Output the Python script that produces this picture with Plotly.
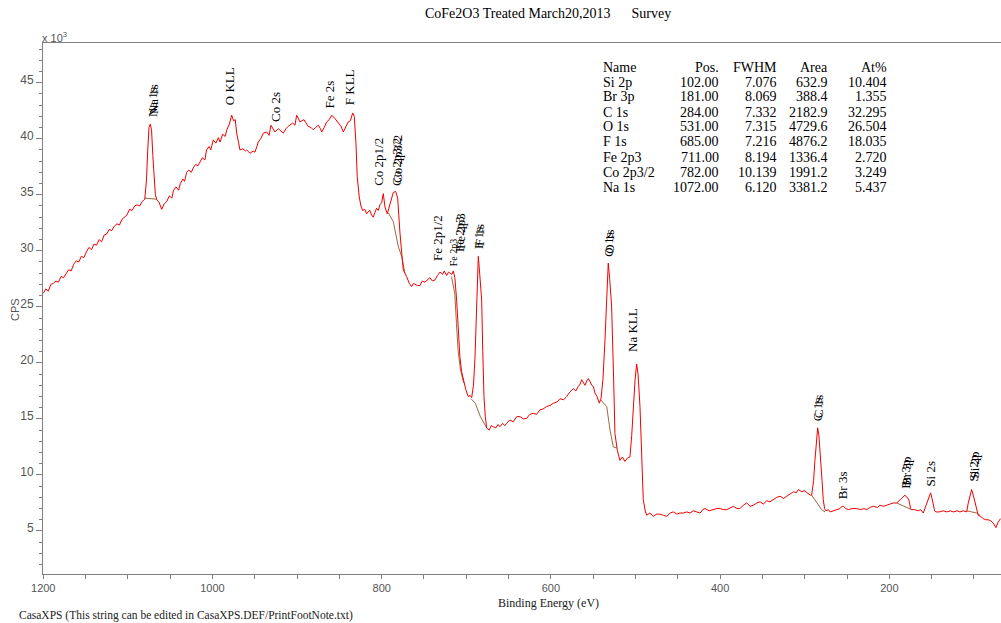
import plotly.graph_objects as go

# ---------------- data (binding energy eV, counts per second in 10^3) ----------------
seg_high_be = [
    (1200, 26.2), (1197, 26.6), (1194, 26.4), (1191, 27.0), (1188, 27.1), (1185, 27.3),
    (1182, 27.2), (1179, 27.7), (1176, 27.6), (1173, 27.9), (1170, 28.3), (1167, 28.2),
    (1164, 28.8), (1161, 29.1), (1158, 29.0), (1155, 29.5), (1152, 29.4), (1149, 29.9),
    (1146, 30.3), (1143, 30.1), (1140, 30.6), (1137, 30.5), (1134, 31.0), (1131, 30.8),
    (1128, 31.4), (1125, 31.5), (1122, 31.9), (1119, 31.8), (1116, 32.2), (1113, 32.4),
    (1110, 32.3), (1107, 32.8), (1104, 33.0), (1101, 33.2), (1098, 33.7), (1095, 33.6),
    (1092, 34.0), (1089, 34.1), (1086, 34.0), (1083, 34.4), (1080, 34.6),
]
seg_na1s = [
    (1078, 36.3), (1076.5, 39.0), (1075, 41.0), (1073.5, 41.3), (1072, 40.8),
    (1070.5, 38.5), (1069, 36.5), (1067.5, 35.0), (1066, 34.6), (1063, 34.3), (1060, 33.7),
]
seg_okll = [
    (1057, 34.2), (1054, 34.4), (1051, 34.9), (1048, 34.7), (1046, 35.4), (1043, 35.7),
    (1040, 35.4), (1038, 36.0), (1035, 36.4), (1033, 36.2), (1030.5, 37.0), (1028, 37.2),
    (1025, 37.0), (1022.7, 37.4), (1020, 37.7), (1017, 37.6), (1014.8, 37.9), (1012, 38.3),
    (1009, 38.1), (1007, 39.0), (1004, 39.3), (1002, 39.0), (999, 39.9), (996, 39.6),
    (993, 40.1), (991, 39.7), (988, 40.4), (985, 40.2), (983, 40.8), (980, 41.3),
    (977.3, 42.1), (975, 41.6), (973, 41.7), (971.4, 40.5), (969, 39.6), (967.5, 39.0),
    (964, 39.1), (961, 38.9), (959.6, 39.0), (957, 38.8), (955.7, 38.7), (952, 38.9),
    (949.8, 38.8), (947.5, 39.3), (945.9, 39.7), (943, 40.0),
]
seg_fkll = [
    (939.9, 40.5), (935.9, 40.6), (933, 40.3), (930.9, 41.2), (928.5, 40.9), (926.1, 40.6),
    (922.2, 40.9), (919, 40.7), (916.3, 40.5), (913, 40.9), (910.4, 41.1), (905.2, 41.4),
    (902.5, 41.2), (900.5, 42.1), (898.5, 41.8), (896.6, 41.5), (891.9, 41.7), (889, 41.4),
    (886.8, 41.1), (883.5, 41.0), (880.9, 40.8), (878, 41.0), (874.9, 41.2), (872.5, 40.9),
    (870.9, 40.6), (868, 41.0), (865, 41.5), (862, 41.7), (859.1, 42.1), (855.2, 41.8),
    (851.3, 41.4), (848, 41.1), (845.4, 40.6), (842.5, 41.0), (839.5, 41.5), (837, 41.6),
    (834.3, 42.3), (832.4, 42.0), (830.4, 39.6), (828.9, 36.6), (826.5, 34.8),
]
seg_co2p = [
    (824.5, 34.0), (822.5, 33.6), (820, 33.7), (817.7, 33.3), (815.8, 33.5), (813.9, 33.6),
    (812, 33.2), (810.0, 33.0), (808, 33.4), (806.0, 33.8), (804, 33.6), (802.1, 34.1),
    (800, 34.3), (798.1, 35.1), (796.1, 33.9), (793.4, 33.3), (791.5, 33.8), (789.4, 34.4),
    (786.3, 35.2), (783.5, 35.3), (781.1, 34.7), (778.4, 31.6), (776.5, 29.8), (774.5, 28.3),
]
seg_fe2p = [
    (770.5, 27.7), (767.5, 27.1), (764.6, 26.8), (762.5, 27.1), (760.7, 27.0), (757.5, 26.9),
    (754.8, 26.9), (752, 27.3), (748.9, 27.2), (746, 27.4), (743.0, 27.6), (740, 27.3),
    (737.0, 27.4), (734, 27.8), (731.1, 28.1), (728, 27.9), (726, 28.2), (723.2, 27.8),
    (721, 28.1), (719.3, 28.0), (717, 27.9), (715.4, 28.2), (713.5, 27.6), (711.4, 25.6),
    (709.5, 23.0), (707.5, 20.5), (705.5, 19.2), (703.6, 18.5), (700.5, 17.6), (697.7, 17.0),
    (695.5, 17.1), (693.6, 16.9),
]
seg_f1s = [
    (691.5, 18.0), (689.7, 20.5), (687.8, 25.0), (686.5, 28.8), (685.8, 29.5), (684.8, 28.6),
    (683.5, 27.2), (681.8, 25.6), (680.5, 21.0), (679.1, 17.0), (677.5, 15.2), (675.9, 14.2),
    (673, 14.0), (670.5, 14.4), (668.1, 14.3), (665, 14.2), (662.5, 14.5), (660.2, 14.3),
    (657, 14.6), (654.5, 14.4), (652.3, 14.6), (648.5, 14.9), (644.4, 14.75), (640.4, 15.2),
    (636.5, 15.2), (632.5, 15.0), (628.6, 15.05), (625, 15.4), (620.8, 15.5), (617, 15.4),
    (612.9, 15.8), (609, 15.9), (605.0, 16.1), (601, 16.2), (597.1, 16.4), (593, 16.5),
    (589.2, 16.8), (585, 16.7), (581.3, 17.0), (577.5, 17.4), (573.5, 17.7), (570.5, 17.5),
    (567.6, 17.9), (565.5, 18.1), (563.6, 18.5), (561.5, 18.2), (559.7, 18.0), (557.5, 18.4),
    (555.8, 18.6), (553.5, 18.3), (551.8, 18.0), (549.8, 17.9), (547.9, 17.3), (545.5, 17.0),
    (542.8, 16.4), (540.8, 16.8),
]
seg_o1s_nakll = [
    (538.5, 18.5), (536.1, 22.0), (534, 26.0), (532.2, 28.9), (530.5, 27.5), (528.2, 25.0),
    (526, 19.0), (524.3, 13.7), (521.5, 12.2), (518.4, 11.3), (515.5, 11.6), (512.5, 11.2),
    (509.5, 11.5), (506.6, 11.6), (504.5, 13.5), (502.6, 16.1), (500.5, 18.5), (498.6, 19.9),
    (497, 19.0), (494.7, 16.1), (492.5, 11.5), (490.8, 7.8), (488.5, 6.8), (486.8, 6.4),
]
seg_valence_c1s = [
    (483, 6.6), (479.0, 6.3), (475, 6.5), (471.1, 6.5), (467, 6.4), (463.2, 6.3),
    (459, 6.6), (455.3, 6.7), (451, 6.5), (447.4, 6.6), (443.5, 6.6), (439.5, 6.7),
    (435.5, 6.6), (431.6, 6.8), (427.5, 6.7), (423.7, 6.6), (420.5, 6.9), (417.8, 7.0),
    (413, 6.8), (408.0, 6.9), (404, 7.0), (400.1, 7.0), (396, 6.9), (392.2, 6.9),
    (388, 7.1), (384.3, 7.2), (380, 7.0), (376.4, 7.0), (372.5, 7.3), (368.5, 7.5),
    (364.5, 7.2), (360.6, 7.3), (356.5, 7.5), (352.7, 7.6), (349, 7.4), (344.8, 7.7),
    (341, 7.6), (337.0, 7.8), (333, 8.0), (329.1, 8.1), (325, 7.9), (321.2, 8.1),
    (317.5, 8.3), (313.3, 8.5), (310, 8.4), (307.4, 8.7), (305.5, 8.6), (303.4, 8.5),
    (300.5, 8.6), (297.5, 8.4), (295.5, 8.3), (293.6, 8.2), (291.8, 8.2), (289.5, 9.5),
    (287.9, 11.3), (286.5, 13.0), (284.7, 14.2), (283.2, 13.5), (281.2, 11.6), (279.5, 9.5),
    (278.1, 7.8), (276.5, 7.0), (274.9, 6.8),
]
seg_low_be = [
    (272, 6.9), (270, 6.7), (266.2, 6.8), (262, 6.9), (258.3, 7.0), (256, 7.2),
    (254.4, 7.2), (251.5, 7.0), (248.5, 6.9), (244, 7.0), (238.6, 7.0), (234, 6.9),
    (230, 7.0), (226.8, 6.9), (223, 7.1), (218.9, 7.2), (214, 7.1), (211.1, 7.3),
    (207.1, 7.2), (203, 7.3), (199.5, 7.4), (195.3, 7.5), (191.3, 7.5), (189.4, 7.6),
    (187, 7.8), (185.4, 7.9), (183.2, 8.1), (181.5, 8.2), (179.5, 8.0), (177.6, 7.9),
    (176.4, 7.6), (174.8, 7.0), (173.6, 6.9), (170, 6.9), (165.8, 6.8), (163, 6.9),
    (159.9, 6.6), (157.8, 7.0), (155.9, 7.5), (153.5, 8.0), (151.2, 8.4), (149.5, 7.9),
    (148.0, 7.3), (146.5, 6.8), (144.9, 6.7), (141, 6.7), (136.2, 6.8), (132.2, 6.7),
    (128, 6.8), (124.4, 6.7), (120, 6.8), (116.5, 6.7), (112.6, 6.8), (108.6, 6.7),
    (106.7, 7.5), (104.5, 8.2), (102.7, 8.7), (100.8, 8.2), (98.8, 7.5), (96.8, 6.9),
    (94.9, 6.4), (92, 6.3), (89.0, 6.1), (86, 6.0), (83.1, 6.0), (80, 5.9),
    (77.2, 5.7), (74.0, 5.3), (71.3, 5.8), (68.5, 6.1),
]

# Shirley-type backgrounds under the fitted regions
bg_na1s = [(1079.8, 34.7), (1066.0, 34.6)]
bg_co2p = [(792.2, 33.4), (786.3, 32.6), (780.4, 30.4), (776.4, 29.5), (772.5, 28.0)]
bg_fe2p = [(717.5, 27.7), (713.6, 26.2), (711.6, 23.5), (709.7, 21.1), (706.9, 19.4), (703.0, 18.2)]
bg_f1s = [(694.4, 16.8), (689.3, 16.4), (683.4, 15.2), (677.5, 14.3), (675.9, 14.2)]
bg_o1s = [(541.3, 16.7), (534.0, 16.1), (530.1, 14.0), (526.2, 12.5), (522.2, 12.4)]
bg_c1s = [(291.8, 8.2), (285.9, 7.6), (280.0, 6.9), (276.1, 6.7)]
bg_br3p = [(191.3, 7.5), (181.5, 7.2), (173.6, 6.9)]
bg_si2p = [(108.6, 6.8), (96.8, 6.6), (92.9, 6.4)]

# Peak labels: text, energy (eV), label base (CPS x 10^3), font size, doubled
peak_text = ["Na 1s", "O KLL", "Co 2s", "Fe 2s", "F KLL", "Co 2p1/2", "Co 2p3/2",
             "Fe 2p1/2", "Fe 2p3", "Fe 2p3", "F 1s", "O 1s", "Na KLL", "C 1s",
             "Br 3s", "Br 3p", "Si 2s", "Si 2p"]
peak_ev = [1071.5, 980.5, 926.1, 861.1, 838.6, 803.2, 781.9,
           733.4, 708.6, 715.4, 686.2, 532.3, 502.7, 284.9,
           255.4, 181.0, 151.5, 100.7]
peak_base = [41.84, 42.9, 41.4, 42.6, 42.9, 35.7, 35.7,
             29.0, 29.8, 28.55, 30.07, 29.4, 20.9, 14.7,
             7.77, 8.66, 8.9, 9.3]
peak_size = [13, 13, 13, 13, 13, 13, 13, 13, 13, 10, 13, 13, 13, 13, 13, 13, 13, 13]
peak_double = [True, False, False, False, False, False, True,
               False, True, False, True, True, False, True,
               False, True, False, True]

# Quantification table
tbl_name = ["Si 2p", "Br 3p", "C 1s", "O 1s", "F 1s", "Fe 2p3", "Co 2p3/2", "Na 1s"]
tbl_pos = ["102.00", "181.00", "284.00", "531.00", "685.00", "711.00", "782.00", "1072.00"]
tbl_fwhm = ["7.076", "8.069", "7.332", "7.315", "7.216", "8.194", "10.139", "6.120"]
tbl_area = ["632.9", "388.4", "2182.9", "4729.6", "4876.2", "1336.4", "1991.2", "3381.2"]
tbl_at = ["10.404", "1.355", "32.295", "26.504", "18.035", "2.720", "3.249", "5.437"]

x_ticks = [1200, 1000, 800, 600, 400, 200]
y_ticks = [5, 10, 15, 20, 25, 30, 35, 40, 45]

# ---------------- figure ----------------
W, H = 1001, 623
ML, MR, MT, MB = 43, 0, 43, 49
PW, PH = W - ML - MR, H - MT - MB


def px(xp):
    return (xp - ML) / PW


def py(yp):
    return (H - MB - yp) / PH


spectrum = (seg_high_be + seg_na1s + seg_okll + seg_fkll + seg_co2p + seg_fe2p +
            seg_f1s + seg_o1s_nakll + seg_valence_c1s + seg_low_be)

bg_x, bg_y = [], []
for seg in [bg_na1s, bg_co2p, bg_fe2p, bg_f1s, bg_o1s, bg_c1s, bg_br3p, bg_si2p]:
    bg_x += [p[0] for p in seg] + [None]
    bg_y += [p[1] for p in seg] + [None]

fig = go.Figure()
fig.add_trace(go.Scatter(x=bg_x, y=bg_y, mode="lines",
                         line=dict(color="#9a6a3c", width=1), hoverinfo="skip"))
fig.add_trace(go.Scatter(x=[p[0] for p in spectrum], y=[p[1] for p in spectrum],
                         mode="lines", line=dict(color="#f00000", width=1)))

serif = "Liberation Serif, Times New Roman, serif"
sans = "Liberation Sans, Arial, sans-serif"
ann = []
for t, e, b, s, d in zip(peak_text, peak_ev, peak_base, peak_size, peak_double):
    ann.append(dict(x=e, y=b, xref="x", yref="y", text=t, textangle=-90,
                    showarrow=False, xanchor="center", yanchor="bottom",
                    font=dict(family=serif, size=s, color="black"), borderpad=0))
    if d:
        ann.append(dict(x=e, y=b, xref="x", yref="y", text=t, textangle=-90,
                        showarrow=False, xanchor="center", yanchor="bottom", xshift=1, yshift=3,
                        font=dict(family=serif, size=s, color="black"), borderpad=0))

# table
row_y = [67 + 15 * i for i in range(9)]
cols = [("Name", tbl_name, 602, "left"), ("Pos.", tbl_pos, 720, "right"),
        ("FWHM", tbl_fwhm, 778, "right"), ("Area", tbl_area, 829, "right"),
        ("At%", tbl_at, 888, "right")]
for head, vals, xr, anc in cols:
    for i, txt in enumerate([head] + vals):
        ann.append(dict(x=px(xr), y=py(row_y[i]), xref="paper", yref="paper", text=txt,
                        showarrow=False, xanchor=anc, yanchor="middle", borderpad=0,
                        font=dict(family=serif, size=14, color="black")))

ann.append(dict(x=px(548), y=py(13), xref="paper", yref="paper",
                text="CoFe2O3 Treated March20,2013\u00a0\u00a0\u00a0\u00a0\u00a0 Survey",
                showarrow=False, xanchor="center", yanchor="middle", borderpad=0,
                font=dict(family=serif, size=14, color="black")))
ann.append(dict(x=px(41), y=py(45), xref="paper", yref="paper",
                text="x 10<sup>3</sup>", showarrow=False, xanchor="left", yanchor="bottom",
                borderpad=0, font=dict(family=sans, size=11, color="#555555")))
ann.append(dict(x=px(15), y=py(310), xref="paper", yref="paper", text="CPS",
                textangle=-90, showarrow=False, xanchor="center", yanchor="middle",
                borderpad=0, font=dict(family=sans, size=11, color="#555555")))
ann.append(dict(x=px(548), y=py(603), xref="paper", yref="paper",
                text="Binding Energy (eV)", showarrow=False, xanchor="center",
                yanchor="middle", borderpad=0, font=dict(family=serif, size=12, color="#222222")))
ann.append(dict(x=px(18), y=py(615), xref="paper", yref="paper",
                text="CasaXPS (This string can be edited in CasaXPS.DEF/PrintFootNote.txt)",
                showarrow=False, xanchor="left", yanchor="middle", borderpad=0,
                font=dict(family=serif, size=11.5, color="#222222")))

fig.update_layout(
    width=W, height=H, margin=dict(l=ML, r=MR, t=MT, b=MB, pad=0),
    paper_bgcolor="white", plot_bgcolor="white", showlegend=False,
    annotations=ann,
    xaxis=dict(range=[1200.3, 68], tickvals=x_ticks, ticktext=[str(v) for v in x_ticks],
               ticks="outside", ticklen=4, tickcolor="#808080", showgrid=False,
               zeroline=False, showline=True, linecolor="#808080", linewidth=1, mirror=True,
               tickfont=dict(family=sans, size=11, color="#555555"),
               minor=dict(dtick=50, tick0=0, ticks="outside", ticklen=4, tickcolor="#808080")),
    yaxis=dict(range=[1.16, 48.54], tickvals=y_ticks, ticktext=[str(v) for v in y_ticks],
               ticks="outside", ticklen=6, tickcolor="#808080", showgrid=False,
               zeroline=False, showline=True, linecolor="#808080", linewidth=1,
               tickfont=dict(family=sans, size=12, color="#555555"), ticklabelshift=-3,
               minor=dict(dtick=1, tick0=0, ticks="outside", ticklen=3, tickcolor="#808080")),
)

fig.write_html("out.html")
